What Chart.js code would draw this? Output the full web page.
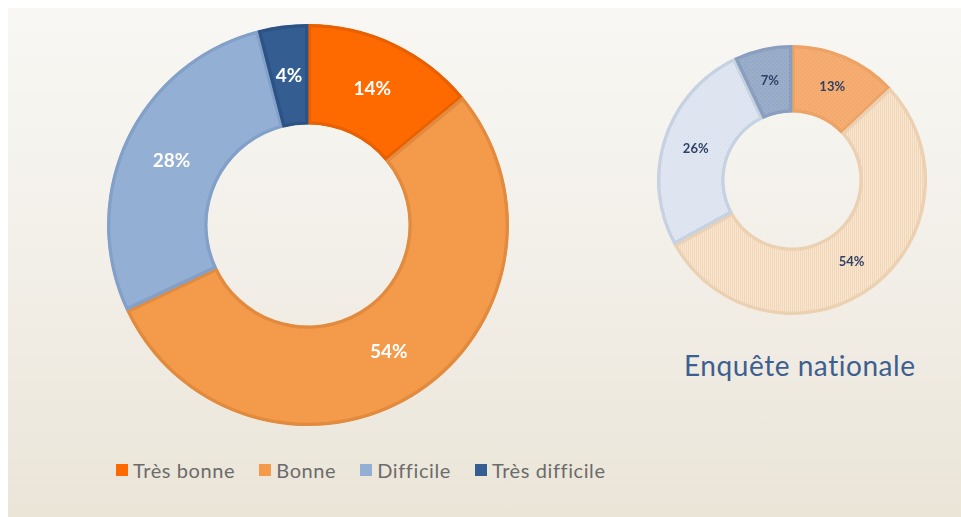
<!DOCTYPE html>
<html>
<head>
<meta charset="utf-8">
<script src="https://cdn.jsdelivr.net/npm/chart.js@4.4.1/dist/chart.umd.min.js"></script>
<style>
  html, body { margin: 0; padding: 0; width: 961px; height: 517px; overflow: hidden; background: #ffffff; }
  #slide { position: absolute; left: 8px; top: 8px; width: 953px; height: 509px;
    background: linear-gradient(to bottom, #f8f7f3 0%, #f3f0ea 45%, #ebe5d8 100%); }
  canvas { position: absolute; }
  #big { left: 83px; top: 0px; }
  #small { left: 642px; top: 30px; }
  #legend { position: absolute; left: 116px; top: 458px; display: flex; gap: 24px;
    font-family: Lato, "Open Sans", sans-serif; font-size: 20px; letter-spacing: 0.6px; color: #6b6b6b; align-items: center; }
  .item { display: flex; align-items: center; gap: 5px; }
  .sw { width: 12px; height: 12px; display: inline-block; }
  #title { position: absolute; left: 684px; top: 348px; font-family: Lato, "Open Sans", sans-serif;
    font-size: 28px; letter-spacing: 0.55px; color: #3d5f8f; white-space: nowrap; }
</style>
</head>
<body>
<div id="slide"></div>
<canvas id="big" width="450" height="450"></canvas>
<canvas id="small" width="300" height="300"></canvas>
<div id="title">Enquête nationale</div>
<div id="legend"></div>
<script>
// ---- data ----
const categories = ["Très bonne", "Bonne", "Difficile", "Très difficile"];
const localValues = [14, 54, 28, 4];
const nationalValues = [13, 54, 26, 7];
const nationalTitle = "Enquête nationale";

// ---- styles ----
const bigColors = ["#ff6a00", "#f39a4b", "#93afd4", "#345d92"];
const bigBorders = ["#e86000", "#e28b3e", "#82a0c8", "#2c5386"];
const smallBorders = ["#eda266", "#ecd0b2", "#c6d2e2", "#8a9ebf"];

function makePattern(base, fg, type) {
  const c = document.createElement('canvas');
  c.width = 4; c.height = 4;
  const g = c.getContext('2d');
  g.fillStyle = base; g.fillRect(0, 0, 4, 4);
  g.fillStyle = fg;
  if (type === 'vlines') {
    g.fillRect(0, 0, 1, 4); g.fillRect(2, 0, 1, 4);
  } else {
    g.fillRect(0, 0, 1, 1); g.fillRect(2, 2, 1, 1);
  }
  return g.createPattern(c, 'repeat');
}
const smallColors = [
  makePattern("#f5ad72", "#eea062", 'dots'),
  makePattern("#f9e6d0", "#f1d6b8", 'vlines'),
  makePattern("#dfe6f1", "#d2dcea", 'dots'),
  makePattern("#9aaeca", "#8ba0c0", 'dots')
];

const labelPlugin = {
  id: 'arcLabels',
  afterDatasetsDraw(chart, args, opts) {
    const ctx = chart.ctx;
    const meta = chart.getDatasetMeta(0);
    const data = chart.data.datasets[0].data;
    ctx.save();
    ctx.font = opts.font;
    ctx.fillStyle = opts.color;
    ctx.textAlign = 'center';
    ctx.textBaseline = 'middle';
    meta.data.forEach((arc, i) => {
      const p = arc.tooltipPosition();
      ctx.fillText(data[i] + '%', p.x, p.y);
    });
    ctx.restore();
  }
};

Chart.defaults.font.family = "Lato, 'Open Sans', sans-serif";

new Chart(document.getElementById('big'), {
  type: 'doughnut',
  data: { labels: categories, datasets: [{ data: localValues, backgroundColor: bigColors,
    borderColor: bigBorders, borderWidth: 3, borderAlign: 'inner' }] },
  options: {
    responsive: false, animation: false, radius: 201, cutout: '50%',
    layout: { padding: 0 },
    plugins: { legend: { display: false }, tooltip: { enabled: false },
      arcLabels: { font: "bold 19px Lato, 'Open Sans', sans-serif", color: "#ffffff" } }
  },
  plugins: [labelPlugin]
});

new Chart(document.getElementById('small'), {
  type: 'doughnut',
  data: { labels: categories, datasets: [{ data: nationalValues, backgroundColor: smallColors,
    borderColor: smallBorders, borderWidth: 3, borderAlign: 'inner' }] },
  options: {
    responsive: false, animation: false, radius: 135, cutout: '50%',
    layout: { padding: 0 },
    plugins: { legend: { display: false }, tooltip: { enabled: false },
      arcLabels: { font: "bold 13px Lato, 'Open Sans', sans-serif", color: "#2f4166" } }
  },
  plugins: [labelPlugin]
});

document.getElementById('title').textContent = nationalTitle;
const legend = document.getElementById('legend');
categories.forEach((c, i) => {
  const it = document.createElement('div'); it.className = 'item';
  const sw = document.createElement('span'); sw.className = 'sw'; sw.style.background = bigColors[i];
  const tx = document.createElement('span'); tx.textContent = c;
  it.appendChild(sw); it.appendChild(tx); legend.appendChild(it);
});
</script>
</body>
</html>
